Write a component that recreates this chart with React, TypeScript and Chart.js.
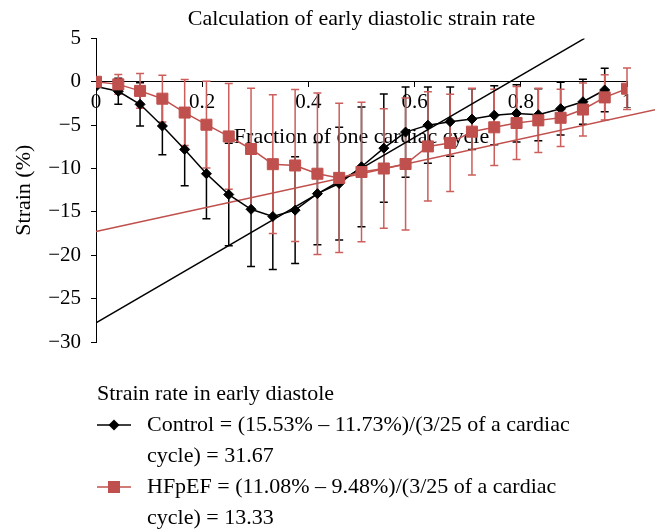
import React, { useEffect, useRef } from "react";
import { Chart, registerables } from "chart.js";

Chart.register(...registerables);

// ---------- data ----------
const FRACTIONS = [
  0, 0.042, 0.083, 0.125, 0.167, 0.208, 0.25, 0.292, 0.333, 0.375, 0.417, 0.458, 0.5,
  0.542, 0.583, 0.625, 0.667, 0.708, 0.75, 0.792, 0.833, 0.875, 0.917, 0.958, 1,
];
const CONTROL = [
  -0.55, -1.1, -2.6, -5.1, -7.8, -10.6, -13.0, -14.7, -15.53, -14.8, -12.9, -11.73, -9.8,
  -7.65, -5.8, -5.0, -4.6, -4.3, -3.85, -3.65, -3.8, -3.1, -2.3, -0.95, null,
];
const CONTROL_SD = [
  0, 1.5, 2.5, 3.3, 4.2, 5.2, 5.9, 6.6, 6.1, 6.15, 5.9, 6.5, 6.9, 6.25, 5.2, 4.4, 4.0, 3.5,
  3.4, 3.3, 3.0, 3.05, 2.6, 2.5, null,
];
const HFPEF = [
  0, -0.3, -1.05, -1.95, -3.55, -4.95, -6.3, -7.75, -9.5, -9.65, -10.6, -11.08, -10.4,
  -10.0, -9.48, -7.45, -7.05, -5.75, -5.25, -4.75, -4.45, -4.15, -3.2, -1.8, -0.8,
];
const HFPEF_SD = [
  0, 1.15, 2.0, 2.7, 3.8, 5.0, 6.1, 7.0, 8.0, 8.75, 9.3, 8.6, 8.05, 6.9, 7.6, 6.3, 5.6, 5.0,
  4.4, 4.2, 3.7, 3.3, 3.05, 2.6, 2.4,
];
const CONTROL_TREND_X = [0, 0.92];
const CONTROL_TREND_Y = [-27.8, 5];
const HFPEF_TREND_X = [0, 1.06];
const HFPEF_TREND_Y = [-17.25, -3.12];

const X_TICKS = [0, 0.2, 0.4, 0.6, 0.8, 1];
const Y_TICKS = [5, 0, -5, -10, -15, -20, -25, -30];

const TITLE = "Calculation of early diastolic strain rate";
const X_TITLE = "Fraction of one cardiac cycle";
const Y_TITLE = "Strain (%)";
const LEGEND_TITLE = "Strain rate in early diastole";
const LEGEND_CONTROL = ["Control = (15.53% \u2013 11.73%)/(3/25 of a cardiac", "cycle) = 31.67"];
const LEGEND_HFPEF = ["HFpEF = (11.08% \u2013 9.48%)/(3/25 of a cardiac", "cycle) = 13.33"];

const RED = "#c0504d";
const RED_BAR = "#cc5f5c";
const BLACK = "#000000";
const FONT = "'Liberation Serif', 'Times New Roman', serif";

const toPoints = (xs: number[], ys: (number | null)[]) =>
  xs.map((x, i) => ({ x, y: ys[i] })).filter((p) => p.y !== null && p.y !== undefined);

const errorBarPlugin = {
  id: "errorBars",
  beforeDatasetsDraw(chart: any) {
    const { ctx, scales } = chart;
    const sets = [
      { values: CONTROL, sd: CONTROL_SD, color: BLACK },
      { values: HFPEF, sd: HFPEF_SD, color: RED_BAR },
    ];
    ctx.save();
    for (const s of sets) {
      ctx.strokeStyle = s.color;
      ctx.lineWidth = 1.5;
      FRACTIONS.forEach((f, i) => {
        const v = s.values[i];
        const e = s.sd[i];
        if (v === null || e === null || !e) return;
        const px = scales.x.getPixelForValue(f);
        const top = scales.y.getPixelForValue(v + e);
        const bot = scales.y.getPixelForValue(v - e);
        ctx.beginPath();
        ctx.moveTo(px, top);
        ctx.lineTo(px, bot);
        ctx.moveTo(px - 4, top);
        ctx.lineTo(px + 4, top);
        ctx.moveTo(px - 4, bot);
        ctx.lineTo(px + 4, bot);
        ctx.stroke();
      });
    }
    ctx.restore();
  },
};

const legendPlugin = {
  id: "customLegend",
  afterDraw(chart: any) {
    const { ctx } = chart;
    ctx.save();
    ctx.font = `22px ${FONT}`;
    ctx.fillStyle = BLACK;
    ctx.textBaseline = "middle";
    ctx.textAlign = "left";
    ctx.fillText(LEGEND_TITLE, 97, 394);

    const entries = [
      { lines: LEGEND_CONTROL, y: 425, color: BLACK, style: "diamond" },
      { lines: LEGEND_HFPEF, y: 487, color: RED, style: "square" },
    ];
    for (const en of entries) {
      ctx.strokeStyle = en.color;
      ctx.lineWidth = 1.5;
      ctx.beginPath();
      ctx.moveTo(97, en.y);
      ctx.lineTo(131, en.y);
      ctx.stroke();
      ctx.fillStyle = en.color;
      ctx.beginPath();
      if (en.style === "diamond") {
        ctx.moveTo(114, en.y - 5.5);
        ctx.lineTo(119.5, en.y);
        ctx.lineTo(114, en.y + 5.5);
        ctx.lineTo(108.5, en.y);
        ctx.closePath();
      } else {
        ctx.rect(108, en.y - 6, 12, 12);
      }
      ctx.fill();
      ctx.fillStyle = BLACK;
      ctx.fillText(en.lines[0], 147, en.y);
      ctx.fillText(en.lines[1], 147, en.y + 31);
    }
    ctx.restore();
  },
};

export default function App() {
  const ref = useRef<HTMLCanvasElement | null>(null);

  useEffect(() => {
    document.body.style.margin = "0";
    const canvas = ref.current;
    if (!canvas) return;
    Chart.defaults.font.family = FONT;
    Chart.defaults.color = BLACK;

    const chart = new Chart(canvas, {
      type: "scatter",
      data: {
        datasets: [
          {
            label: "HFpEF",
            data: toPoints(FRACTIONS, HFPEF),
            showLine: true,
            borderColor: RED,
            backgroundColor: RED,
            borderWidth: 1.5,
            pointStyle: "rect",
            pointRadius: 7.8,
            pointBorderWidth: 1,
            pointBorderColor: RED,
            pointBackgroundColor: RED,
            order: 0,
          },
          {
            label: "Control",
            data: toPoints(FRACTIONS, CONTROL),
            showLine: true,
            borderColor: BLACK,
            backgroundColor: BLACK,
            borderWidth: 1.5,
            pointStyle: "rectRot",
            pointRadius: 5,
            pointBorderWidth: 1,
            pointBorderColor: BLACK,
            pointBackgroundColor: BLACK,
            order: 1,
          },
          {
            label: "Control trend",
            data: toPoints(CONTROL_TREND_X, CONTROL_TREND_Y),
            showLine: true,
            borderColor: BLACK,
            borderWidth: 1.5,
            pointRadius: 0,
            order: 2,
          },
          {
            label: "HFpEF trend",
            data: toPoints(HFPEF_TREND_X, HFPEF_TREND_Y),
            showLine: true,
            borderColor: RED,
            borderWidth: 1.5,
            pointRadius: 0,
            clip: false,
            order: 3,
          },
        ],
      },
      options: {
        responsive: false,
        animation: false,
        devicePixelRatio: 1,
        layout: { padding: { left: 0, right: 28, top: 0, bottom: 187 } },
        plugins: {
          legend: { display: false },
          tooltip: { enabled: false },
          title: {
            display: true,
            text: TITLE,
            fullSize: false,
            color: BLACK,
            font: { size: 22, weight: "normal", family: FONT },
            padding: { top: 6, bottom: 6 },
          },
        },
        scales: {
          x: {
            type: "linear",
            min: 0,
            max: 1,
            position: { y: 0 },
            z: 1,
            afterBuildTicks: (s: any) => {
              s.ticks = X_TICKS.map((v) => ({ value: v }));
            },
            afterFit: (s: any) => {
              s.height = 69;
            },
            ticks: {
              color: BLACK,
              font: { size: 21, family: FONT },
              padding: 3,
              maxRotation: 0,
              callback: (v: any) => String(v),
            },
            grid: { drawOnChartArea: false, drawTicks: true, tickLength: 5, color: BLACK },
            border: { color: BLACK, width: 1 },
            title: {
              display: true,
              text: X_TITLE,
              color: BLACK,
              font: { size: 22, family: FONT },
              padding: { top: 0, bottom: 0 },
            },
          },
          y: {
            type: "linear",
            min: -30,
            max: 5,
            position: "left",
            afterBuildTicks: (s: any) => {
              s.ticks = Y_TICKS.map((v) => ({ value: v }));
            },
            afterFit: (s: any) => {
              s.width = 96;
            },
            ticks: {
              color: BLACK,
              font: { size: 21, family: FONT },
              padding: 10,
              callback: (v: any) => (Number(v) < 0 ? "\u2212" + Math.abs(Number(v)) : String(v)),
            },
            grid: { drawOnChartArea: false, drawTicks: true, tickLength: 5, color: BLACK },
            border: { color: BLACK, width: 1 },
            title: {
              display: true,
              text: Y_TITLE,
              color: BLACK,
              font: { size: 22, family: FONT },
              padding: { top: 11, bottom: 0 },
            },
          },
        },
      },
      plugins: [errorBarPlugin, legendPlugin],
    } as any);

    return () => chart.destroy();
  }, []);

  return (
    <div style={{ width: 655, height: 529, background: "#fff" }}>
      <canvas ref={ref} width={655} height={529} style={{ display: "block" }} />
    </div>
  );
}
